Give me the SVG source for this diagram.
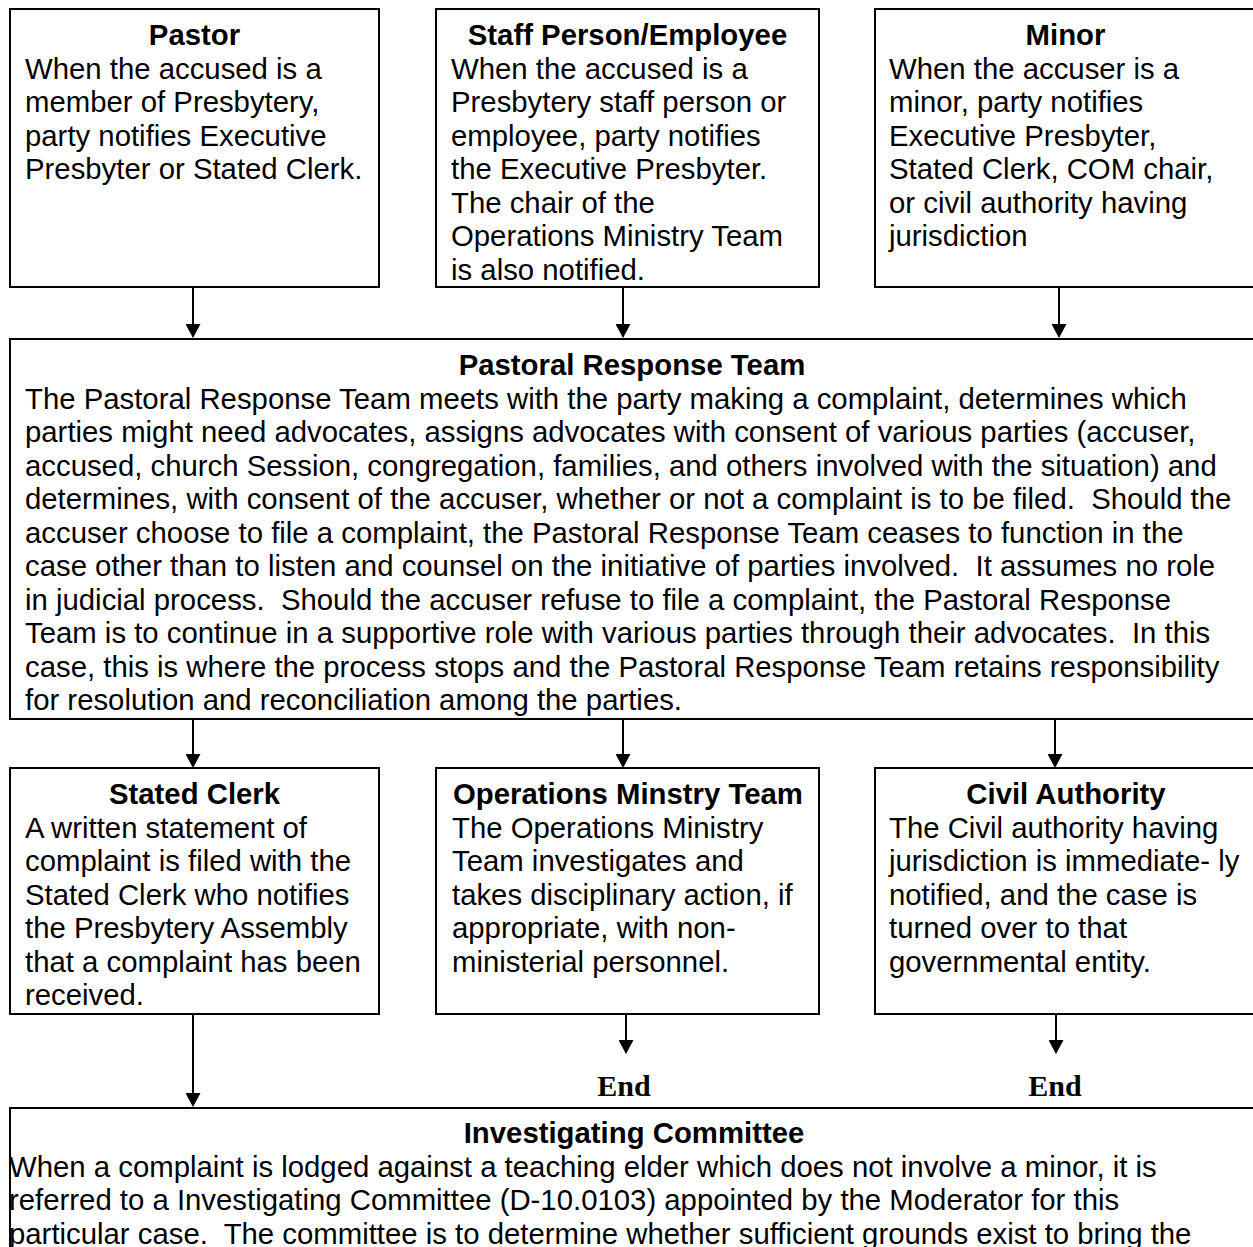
<svg xmlns="http://www.w3.org/2000/svg" width="1253" height="1247" viewBox="0 0 1253 1247">
<style>
.box{fill:#fff;stroke:#000;stroke-width:2}
.t{font-family:"Liberation Sans",Arial,sans-serif;font-size:29.33px;fill:#000}
.h{font-family:"Liberation Sans",Arial,sans-serif;font-size:29.33px;font-weight:bold;fill:#000;text-anchor:middle}
.end{font-family:"Liberation Serif","Times New Roman",serif;font-size:30px;font-weight:bold;fill:#000;text-anchor:middle}
.c{stroke:#000;stroke-width:2;fill:none;marker-end:url(#ah)}
</style>
<defs>
<marker id="ah" markerUnits="userSpaceOnUse" viewBox="0 0 14 15" refX="8" refY="7.5" markerWidth="14" markerHeight="15" orient="auto">
<path d="M0,0 L14,7.5 L0,15 z" fill="#000"/>
</marker>
</defs>
<rect width="1253" height="1247" fill="#fff"/>

<g id="pastor">
<rect class="box" x="10" y="9" width="369" height="278"/>
<text class="h" x="194.5" y="45">Pastor</text>
<text class="t" x="25" y="78.5">When the accused is a</text>
<text class="t" x="25" y="112">member of Presbytery,</text>
<text class="t" x="25" y="145.5">party notifies Executive</text>
<text class="t" x="25" y="179">Presbyter or Stated Clerk.</text>
</g>

<g id="staff">
<rect class="box" x="436" y="9" width="383" height="278"/>
<text class="h" x="627.5" y="45">Staff Person/Employee</text>
<text class="t" x="451" y="78.5">When the accused is a</text>
<text class="t" x="451" y="112">Presbytery staff person or</text>
<text class="t" x="451" y="145.5">employee, party notifies</text>
<text class="t" x="451" y="179">the Executive Presbyter.</text>
<text class="t" x="451" y="212.5">The chair of the</text>
<text class="t" x="451" y="246">Operations Ministry Team</text>
<text class="t" x="451" y="279.5">is also notified.</text>
</g>

<g id="minor">
<rect class="box" x="875" y="9" width="381" height="278"/>
<text class="h" x="1065.5" y="45">Minor</text>
<text class="t" x="889" y="78.5">When the accuser is a</text>
<text class="t" x="889" y="112">minor, party notifies</text>
<text class="t" x="889" y="145.5">Executive Presbyter,</text>
<text class="t" x="889" y="179">Stated Clerk, COM chair,</text>
<text class="t" x="889" y="212.5">or civil authority having</text>
<text class="t" x="889" y="246">jurisdiction</text>
</g>

<g id="pastoral-response-team">
<rect class="box" x="10" y="339" width="1248" height="380"/>
<text class="h" x="632" y="375">Pastoral Response Team</text>
<text class="t" x="25" y="408.5" xml:space="preserve">The Pastoral Response Team meets with the party making a complaint, determines which</text>
<text class="t" x="25" y="442" xml:space="preserve">parties might need advocates, assigns advocates with consent of various parties (accuser,</text>
<text class="t" x="25" y="475.5" xml:space="preserve">accused, church Session, congregation, families, and others involved with the situation) and</text>
<text class="t" x="25" y="509" xml:space="preserve">determines, with consent of the accuser, whether or not a complaint is to be filed.  Should the</text>
<text class="t" x="25" y="542.5" xml:space="preserve">accuser choose to file a complaint, the Pastoral Response Team ceases to function in the</text>
<text class="t" x="25" y="576" xml:space="preserve">case other than to listen and counsel on the initiative of parties involved.  It assumes no role</text>
<text class="t" x="25" y="609.5" xml:space="preserve">in judicial process.  Should the accuser refuse to file a complaint, the Pastoral Response</text>
<text class="t" x="25" y="643" xml:space="preserve">Team is to continue in a supportive role with various parties through their advocates.  In this</text>
<text class="t" x="25" y="676.5" xml:space="preserve">case, this is where the process stops and the Pastoral Response Team retains responsibility</text>
<text class="t" x="25" y="710" xml:space="preserve">for resolution and reconciliation among the parties.</text>
</g>

<g id="stated-clerk">
<rect class="box" x="10" y="768" width="369" height="246"/>
<text class="h" x="194.5" y="804">Stated Clerk</text>
<text class="t" x="25" y="837.5">A written statement of</text>
<text class="t" x="25" y="871">complaint is filed with the</text>
<text class="t" x="25" y="904.5">Stated Clerk who notifies</text>
<text class="t" x="25" y="938">the Presbytery Assembly</text>
<text class="t" x="25" y="971.5">that a complaint has been</text>
<text class="t" x="25" y="1005">received.</text>
</g>

<g id="operations-ministry-team">
<rect class="box" x="436" y="768" width="383" height="246"/>
<text class="h" x="628" y="804">Operations Minstry Team</text>
<text class="t" x="452" y="837.5">The Operations Ministry</text>
<text class="t" x="452" y="871">Team investigates and</text>
<text class="t" x="452" y="904.5">takes disciplinary action, if</text>
<text class="t" x="452" y="938">appropriate, with non-</text>
<text class="t" x="452" y="971.5">ministerial personnel.</text>
</g>

<g id="civil-authority">
<rect class="box" x="875" y="768" width="381" height="246"/>
<text class="h" x="1066" y="804">Civil Authority</text>
<text class="t" x="889" y="837.5">The Civil authority having</text>
<text class="t" x="889" y="871">jurisdiction is immediate- ly</text>
<text class="t" x="889" y="904.5">notified, and the case is</text>
<text class="t" x="889" y="938">turned over to that</text>
<text class="t" x="889" y="971.5">governmental entity.</text>
</g>

<g id="end-1">
<text class="end" x="624" y="1096">End</text>
</g>
<g id="end-2">
<text class="end" x="1055" y="1096">End</text>
</g>

<g id="investigating-committee">
<rect class="box" x="10" y="1108" width="1248" height="200"/>
<text class="h" x="634" y="1143">Investigating Committee</text>
<text class="t" x="9" y="1176.5" xml:space="preserve">When a complaint is lodged against a teaching elder which does not involve a minor, it is</text>
<text class="t" x="9" y="1210" xml:space="preserve">referred to a Investigating Committee (D-10.0103) appointed by the Moderator for this</text>
<text class="t" x="9" y="1243.5" xml:space="preserve">particular case.  The committee is to determine whether sufficient grounds exist to bring the</text>
</g>

<g id="connectors">
<line class="c" x1="193" y1="288" x2="193" y2="332"/>
<line class="c" x1="623" y1="288" x2="623" y2="332"/>
<line class="c" x1="1059" y1="288" x2="1059" y2="332"/>
<line class="c" x1="193" y1="720" x2="193" y2="762"/>
<line class="c" x1="623" y1="720" x2="623" y2="762"/>
<line class="c" x1="1055" y1="720" x2="1055" y2="762"/>
<line class="c" x1="626" y1="1015" x2="626" y2="1048"/>
<line class="c" x1="1056" y1="1015" x2="1056" y2="1048"/>
<line class="c" x1="193" y1="1015" x2="193" y2="1101"/>
</g>
</svg>
